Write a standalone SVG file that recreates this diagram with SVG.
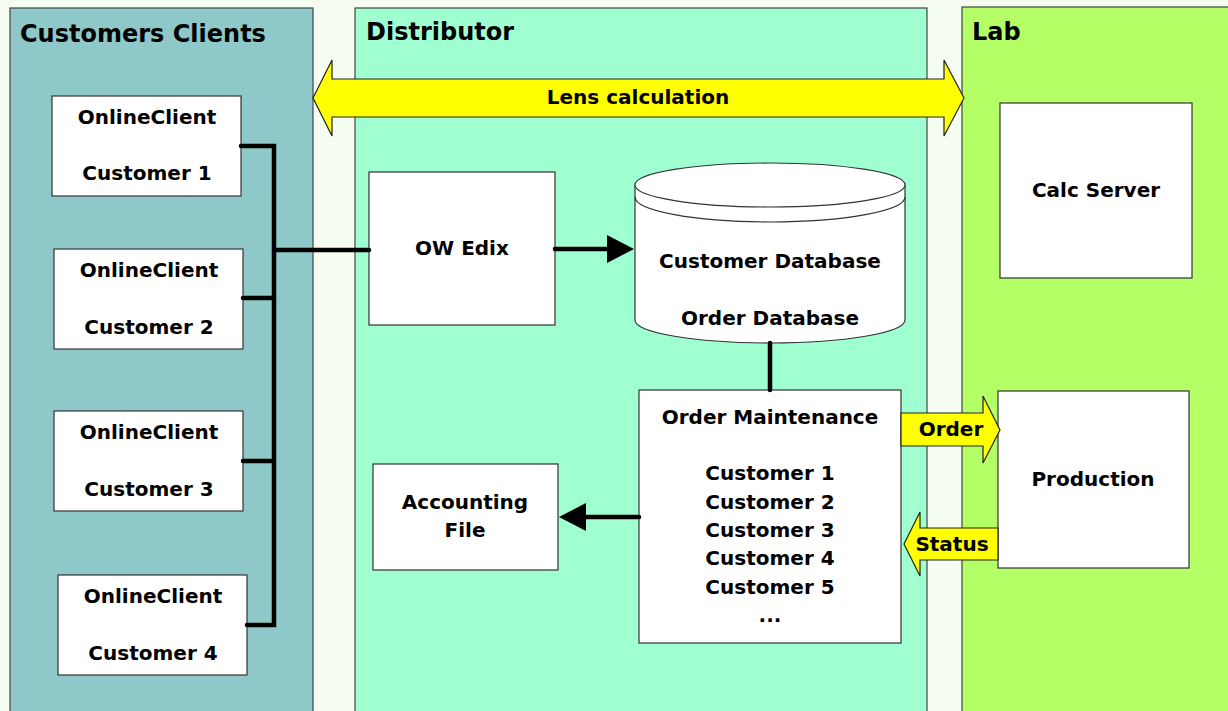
<svg xmlns="http://www.w3.org/2000/svg" width="1228" height="711" viewBox="0 0 1228 711">
<defs>
<style>
text{font-family:"DejaVu Sans","Liberation Sans",Arial,sans-serif;font-weight:bold;fill:#000;text-anchor:middle;dominant-baseline:central}
.t{font-size:20px}
.h{font-size:24px;text-anchor:start}
.box{fill:#fff;stroke:#333;stroke-width:1.2}
.panel{stroke:#444;stroke-width:1.2}
.ln{stroke:#000;stroke-width:4.5;fill:none;stroke-linecap:round}
.ya{fill:#ffff00;stroke:#222;stroke-width:1.2;stroke-linejoin:miter}
</style>
<pattern id="grid" width="4" height="4" patternUnits="userSpaceOnUse">
<rect width="4" height="4" fill="#f7fdf2"/>
<path d="M0 0H4M0 0V4" stroke="#eaf6e6" stroke-width="0.6"/>
</pattern>
</defs>
<rect width="1228" height="711" fill="url(#grid)"/>

<g id="panel-customers">
<rect class="panel" x="10" y="8" width="303" height="710" fill="#8fc8c8"/>
<text class="h" x="20" y="34">Customers Clients</text>
</g>
<g id="panel-distributor">
<rect class="panel" x="355" y="8" width="572" height="710" fill="#a0ffd0"/>
<text class="h" x="366" y="32">Distributor</text>
</g>
<g id="panel-lab">
<rect class="panel" x="962" y="7" width="280" height="710" fill="#b5ff66"/>
<text class="h" x="972" y="32">Lab</text>
</g>

<g id="lens-calculation">
<path class="ya" d="M313,98 L332,60 L332,79 L944,79 L944,60 L964,98 L944,136 L944,117 L332,117 L332,136 Z"/>
<text class="t" x="638" y="97">Lens calculation</text>
</g>

<g id="client1">
<rect class="box" x="52" y="96" width="189" height="100"/>
<text class="t" x="147" y="117">OnlineClient</text>
<text class="t" x="147" y="173">Customer 1</text>
</g>
<g id="client2">
<rect class="box" x="54" y="249" width="189" height="100"/>
<text class="t" x="149" y="270">OnlineClient</text>
<text class="t" x="149" y="327">Customer 2</text>
</g>
<g id="client3">
<rect class="box" x="54" y="411" width="189" height="100"/>
<text class="t" x="149" y="432">OnlineClient</text>
<text class="t" x="149" y="489">Customer 3</text>
</g>
<g id="client4">
<rect class="box" x="58" y="575" width="189" height="100"/>
<text class="t" x="153" y="596">OnlineClient</text>
<text class="t" x="153" y="653">Customer 4</text>
</g>

<g id="ow-edix">
<rect class="box" x="369" y="172" width="186" height="153"/>
<text class="t" x="462" y="248">OW Edix</text>
</g>

<g id="database">
<path class="box" d="M635,185 L635,320 A135,23 0 0 0 905,320 L905,185"/>
<ellipse class="box" cx="770" cy="185" rx="135" ry="22"/>
<path d="M635,197 A135,25 0 0 0 905,197" fill="none" stroke="#333" stroke-width="1.2"/>
<text class="t" x="770" y="261">Customer Database</text>
<text class="t" x="770" y="318">Order Database</text>
</g>

<g id="order-maintenance">
<rect class="box" x="639" y="390" width="262" height="253"/>
<text class="t" x="770" y="417">Order Maintenance</text>
<text class="t" x="770" y="473">Customer 1</text>
<text class="t" x="770" y="502">Customer 2</text>
<text class="t" x="770" y="530">Customer 3</text>
<text class="t" x="770" y="558">Customer 4</text>
<text class="t" x="770" y="587">Customer 5</text>
<text class="t" x="770" y="615">...</text>
</g>

<g id="accounting-file">
<rect class="box" x="373" y="464" width="185" height="106"/>
<text class="t" x="465" y="502">Accounting</text>
<text class="t" x="465" y="530">File</text>
</g>

<g id="calc-server">
<rect class="box" x="1000" y="103" width="192" height="175"/>
<text class="t" x="1096" y="190">Calc Server</text>
</g>

<g id="production">
<rect class="box" x="998" y="391" width="191" height="177"/>
<text class="t" x="1093" y="479">Production</text>
</g>

<g id="order-arrow">
<path class="ya" d="M901,413 L983,413 L983,396 L1000,430 L983,463 L983,446 L901,446 Z"/>
<text class="t" x="951" y="429">Order</text>
</g>
<g id="status-arrow">
<path class="ya" d="M998,528 L920,528 L920,512 L904,544 L920,576 L920,560 L998,560 Z"/>
<text class="t" x="952" y="544">Status</text>
</g>

<g id="connectors">
<path class="ln" d="M241,146 H274 V625 H247"/>
<path class="ln" d="M243,298 H274"/>
<path class="ln" d="M243,461 H274"/>
<path class="ln" d="M274,250 H369"/>
<path class="ln" d="M555,249 H610"/>
<polygon points="607,235 634,249 607,263" fill="#000"/>
<path class="ln" d="M770,343 V390"/>
<path class="ln" d="M639,517 H585"/>
<polygon points="586,503 559,517 586,531" fill="#000"/>
</g>
</svg>
